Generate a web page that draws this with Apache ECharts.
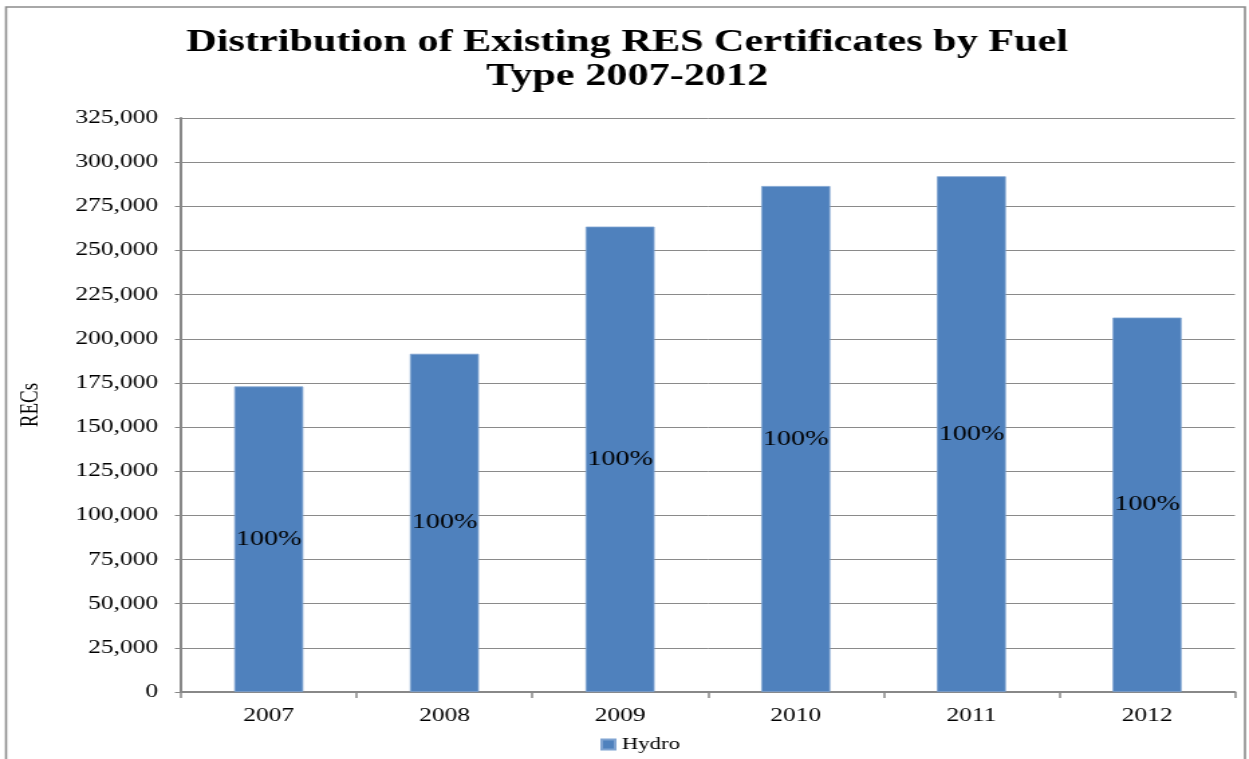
<!DOCTYPE html>
<html>
<head>
<meta charset="utf-8">
<script src="https://cdn.jsdelivr.net/npm/echarts@6/dist/echarts.min.js"></script>
<style>
  html, body { margin: 0; padding: 0; background: #fff; overflow: hidden; }
  /* The chart is laid out on a narrower canvas and widened to fill the page,
     giving the broad, stretched lettering of the printed report figure. */
  #chart {
    width: 932px;
    height: 759px;
    transform: scaleX(1.3401);
    transform-origin: 0 0;
  }
</style>
</head>
<body>
<div id="chart"></div>
<script>
// Renewable energy certificates (RECs) issued per year, all from hydro
const years = ['2007', '2008', '2009', '2010', '2011', '2012'];
const hydroRECs = [173000, 191500, 263500, 286500, 292000, 212000];
const shareLabels = ['100%', '100%', '100%', '100%', '100%', '100%'];
const seriesName = 'Hydro';

const serif = '"Liberation Serif", "Times New Roman", serif';
const chart = echarts.init(document.getElementById('chart'), null, { renderer: 'canvas' });

chart.setOption({
  backgroundColor: '#ffffff',
  animation: false,
  graphic: [{
    type: 'rect',
    shape: { x: 4.5, y: 7, width: 924.5, height: 800 },
    style: { fill: 'none', stroke: '#8c8c8c', lineWidth: 1.6 },
    silent: true
  }],
  title: {
    text: 'Distribution of Existing RES Certificates by Fuel\nType 2007-2012',
    left: 463,
    textAlign: 'center',
    top: 21,
    textStyle: {
      fontFamily: serif,
      fontWeight: 'bold',
      fontSize: 31.5,
      lineHeight: 34,
      color: '#000'
    }
  },
  legend: {
    data: [seriesName],
    bottom: 1,
    left: 443,
    icon: 'rect',
    itemWidth: 10,
    itemHeight: 10,
    itemGap: 3,
    textStyle: { fontFamily: serif, fontSize: 17, color: '#000' }
  },
  grid: { left: 135, right: 10.5, top: 118, bottom: 67, containLabel: false },
  xAxis: {
    type: 'category',
    data: years,
    axisLine: { lineStyle: { color: '#888', width: 2 } },
    axisTick: { show: true, length: 6, lineStyle: { color: '#888', width: 1.5 } },
    axisLabel: { fontFamily: serif, fontSize: 19, color: '#000', margin: 15 }
  },
  yAxis: {
    type: 'value',
    min: 0,
    max: 325000,
    interval: 25000,
    name: 'RECs',
    nameLocation: 'middle',
    nameGap: 102,
    nameRotate: 90,
    nameTextStyle: { fontFamily: serif, fontSize: 19, color: '#000' },
    axisLine: { show: true, lineStyle: { color: '#888', width: 2 } },
    axisTick: { show: true, length: 4.5, lineStyle: { color: '#888', width: 1 } },
    splitLine: { lineStyle: { color: '#8a8a8a', width: 1 } },
    axisLabel: {
      fontFamily: serif,
      fontSize: 19,
      color: '#000',
      margin: 17,
      formatter: v => v.toLocaleString('en-US')
    }
  },
  series: [{
    name: seriesName,
    type: 'bar',
    data: hydroRECs.map((v, i) => ({ value: v, label: { formatter: shareLabels[i] } })),
    barWidth: '39.3%',
    itemStyle: { color: '#4F81BD', borderColor: '#7fa3d1', borderWidth: 0.8 },
    label: {
      show: true,
      position: 'inside',
      fontFamily: serif,
      fontSize: 21,
      color: '#000'
    }
  }]
});
</script>
</body>
</html>
